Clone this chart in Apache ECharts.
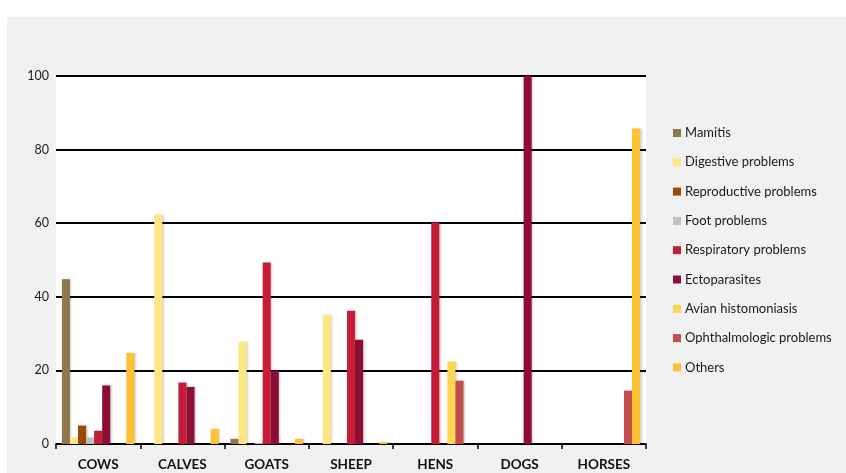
<!DOCTYPE html>
<html>
<head>
<meta charset="utf-8">
<script src="https://cdn.jsdelivr.net/npm/echarts@6/dist/echarts.min.js"></script>
<style>
  html, body { margin: 0; padding: 0; background: #ffffff; }
  #chart { width: 846px; height: 473px; }
</style>
</head>
<body>
<div id="chart"></div>
<script>
// Species groups on the category axis
const categories = ['COWS', 'CALVES', 'GOATS', 'SHEEP', 'HENS', 'DOGS', 'HORSES'];

// Share of cases (%) per health problem, one value per species
const mamitis        = [44.8, 0,    1.4,  0,    0,    0,   0];
const digestive      = [1.7,  62.3, 27.8, 35.0, 0,    0,   0];
const reproductive   = [5.0,  0,    0,    0,    0,    0,   0];
const foot           = [1.7,  0,    0.3,  0,    0,    0,   0];
const respiratory    = [3.6,  16.7, 49.3, 36.2, 60.2, 0,   0];
const ectoparasites  = [15.9, 15.5, 19.9, 28.3, 0,    100, 0];
const avian          = [0,    0,    0,    0,    22.4, 0,   0];
const ophthalmologic = [0,    0,    0,    0,    17.2, 0,   14.5];
const others         = [24.7, 4.1,  1.4,  0.5,  0,    0,   85.7];

const seriesNames = ['Mamitis', 'Digestive problems', 'Reproductive problems', 'Foot problems',
  'Respiratory problems', 'Ectoparasites', 'Avian histomoniasis', 'Ophthalmologic problems', 'Others'];
const seriesData = [mamitis, digestive, reproductive, foot, respiratory, ectoparasites, avian, ophthalmologic, others];
const colors = ['#8e774f', '#ffe682', '#9a4a06', '#c0c0c0', '#c51c38', '#8c0f33', '#fdd54f', '#c1504d', '#fdc131'];

const yTicks = [0, 20, 40, 60, 80, 100];

const chart = echarts.init(document.getElementById('chart'), null, { renderer: 'canvas' });

chart.setOption({
  animation: false,
  backgroundColor: '#ffffff',
  color: colors,
  graphic: [{
    type: 'rect',
    left: 7, top: 17,
    shape: { width: 839, height: 456 },
    style: { fill: '#f1f1f1' },
    z: -10
  }],
  grid: {
    left: 56, right: 200, top: 76, bottom: 29,
    show: true, backgroundColor: '#ffffff', borderWidth: 0
  },
  legend: {
    orient: 'vertical',
    left: 668, top: 121,
    itemWidth: 8, itemHeight: 8,
    itemGap: 15.3,
    icon: 'rect',
    data: seriesNames,
    textStyle: { fontFamily: 'Lato', fontSize: 13, color: '#1a1a1a', lineHeight: 14, padding: [0, 0, 0, -1] }
  },
  xAxis: {
    type: 'category',
    data: categories,
    axisLine: { show: true, lineStyle: { color: '#000', width: 1.5 } },
    axisTick: { show: true, inside: false, length: 5, lineStyle: { color: '#000', width: 1.5 } },
    axisLabel: { fontFamily: 'Lato', fontWeight: 'bold', fontSize: 13.5, color: '#111', margin: 14 },
    splitLine: { show: false }
  },
  yAxis: {
    type: 'value',
    min: yTicks[0], max: yTicks[yTicks.length - 1], interval: 20,
    axisLine: { show: false },
    axisTick: { show: false },
    axisLabel: { fontFamily: 'Lato', fontSize: 12.5, color: '#1a1a1a', margin: 7 },
    splitLine: { show: true, lineStyle: { color: '#000', width: 2 } }
  },
  series: seriesNames.map((name, i) => ({
    name: name,
    type: 'bar',
    data: seriesData[i],
    barGap: '0%',
    barCategoryGap: '14%',
    itemStyle: {
      color: colors[i],
      shadowColor: 'rgba(0,0,0,0.18)',
      shadowBlur: 2,
      shadowOffsetX: 1.5
    }
  }))
});
</script>
</body>
</html>
